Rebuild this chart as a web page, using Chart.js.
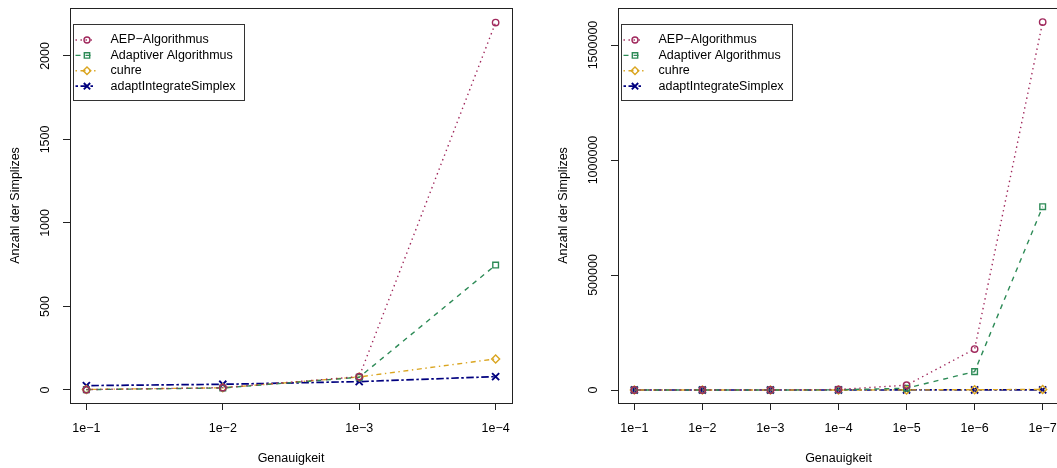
<!DOCTYPE html>
<html><head><meta charset="utf-8">
<script src="https://cdn.jsdelivr.net/npm/chart.js@4/dist/chart.umd.min.js"></script>
<style>
html,body{margin:0;padding:0;background:#fff;overflow:hidden;width:1057px;height:468px;position:relative}
canvas{position:absolute;top:0}
#c1{left:0}
#c2{left:529px}
</style></head>
<body>
<canvas id="c1" width="529" height="468"></canvas>
<canvas id="c2" width="545" height="468"></canvas>
<script>
// ---- data ----
const seriesNames = ['AEP\u2212Algorithmus', 'Adaptiver Algorithmus', 'cuhre', 'adaptIntegrateSimplex'];

const leftCategories = ['1e\u22121', '1e\u22122', '1e\u22123', '1e\u22124'];
const leftAEP      = [2, 14, 80, 2200];
const leftAdaptive = [2, 12, 76, 748];
const leftCuhre    = [3, 13, 78, 186];
const leftSimplex  = [26, 34, 50, 80];
const leftYTicks   = [0, 500, 1000, 1500, 2000];

const rightCategories = ['1e\u22121', '1e\u22122', '1e\u22123', '1e\u22124', '1e\u22125', '1e\u22126', '1e\u22127'];
const rightAEP      = [2, 14, 80, 2200, 21000, 178000, 1600000];
const rightAdaptive = [2, 12, 76, 748, 8000, 80000, 797000];
const rightCuhre    = [3, 13, 78, 186, 500, 1200, 2500];
const rightSimplex  = [26, 34, 50, 80, 150, 300, 600];
const rightYTicks   = [0, 500000, 1000000, 1500000];

const xTitle = 'Genauigkeit';
const yTitle = 'Anzahl der Simplizes';

// ---- styles ----
const FONT_FAMILY = '"Liberation Sans", Arial, Helvetica, sans-serif';
const FONT_SIZE = 12.5;
const FONT = FONT_SIZE + 'px ' + FONT_FAMILY;
const styles = [
  {color: '#a0285c', dash: [1.4, 3.6], point: 'circle', radius: 3.2, width: 1.4},
  {color: '#2e8b57', dash: [5, 5], point: 'rect', radius: 4, width: 1.4},
  {color: '#daa520', dash: [1.4, 3.6, 5, 3.6], point: 'rectRot', radius: 4, width: 1.4},
  {color: '#00007f', dash: [2.5, 2.5, 7.5, 2.5], point: 'crossRot', radius: 5, width: 1.7}
];

function drawMarker(ctx, kind, x, y, r, color) {
  ctx.save();
  ctx.strokeStyle = color; ctx.lineWidth = 1.4; ctx.setLineDash([]);
  ctx.beginPath();
  if (kind === 'circle') { ctx.arc(x, y, r, 0, Math.PI * 2); }
  else if (kind === 'rect') { const s = r * Math.SQRT1_2; ctx.rect(x - s, y - s, 2 * s, 2 * s); }
  else if (kind === 'rectRot') { ctx.moveTo(x, y - r); ctx.lineTo(x + r, y); ctx.lineTo(x, y + r); ctx.lineTo(x - r, y); ctx.closePath(); }
  else if (kind === 'crossRot') { const s = r * Math.SQRT1_2; ctx.moveTo(x - s, y - s); ctx.lineTo(x + s, y + s); ctx.moveTo(x + s, y - s); ctx.lineTo(x - s, y + s); ctx.lineWidth = 1.9; }
  ctx.stroke();
  ctx.restore();
}

const rStylePlugin = {
  id: 'rStyle',
  afterDraw(chart) {
    const ctx = chart.ctx, a = chart.chartArea;
    ctx.save();
    // plot box
    ctx.strokeStyle = '#222'; ctx.lineWidth = 1; ctx.setLineDash([]);
    ctx.strokeRect(a.left + 0.5, a.top + 0.5, a.right - a.left, a.bottom - a.top);
    // rotated y tick labels
    const ys = chart.scales.y;
    ctx.font = FONT; ctx.fillStyle = '#000'; ctx.textAlign = 'center'; ctx.textBaseline = 'middle';
    ys.ticks.forEach(t => {
      const py = ys.getPixelForValue(t.value);
      ctx.save(); ctx.translate(a.left - 24, py); ctx.rotate(-Math.PI / 2);
      ctx.fillText(String(t.value), 0, 0);
      ctx.restore();
    });
    // legend
    const bx = a.left + 2.5, by = a.top + 16, bw = 171, bh = 76;
    ctx.fillStyle = '#fff';
    ctx.fillRect(bx, by, bw, bh);
    ctx.strokeStyle = '#333'; ctx.lineWidth = 1;
    ctx.strokeRect(Math.round(bx) + 0.5, Math.round(by) + 0.5, bw, bh);
    chart.data.datasets.forEach((ds, i) => {
      const st = styles[i];
      const ry = by + 16 + i * 15.4;
      ctx.save();
      ctx.strokeStyle = st.color; ctx.lineWidth = st.width; ctx.setLineDash(st.dash);
      ctx.beginPath(); ctx.moveTo(bx + 3, ry); ctx.lineTo(bx + 23, ry); ctx.stroke();
      ctx.restore();
      drawMarker(ctx, st.point, bx + 14.5, ry, st.point === 'crossRot' ? 4.5 : (st.point === 'circle' ? 3 : 3.8), st.color);
      ctx.fillStyle = '#000'; ctx.font = FONT; ctx.textAlign = 'left'; ctx.textBaseline = 'middle';
      ctx.fillText(ds.label, bx + 38, ry);
    });
    ctx.restore();
  }
};

function makeChart(id, cats, series, yTicks, yMin, yMax, yWidth, padRight, yTitlePad) {
  const n = cats.length;
  const datasets = series.map((vals, i) => ({
    label: seriesNames[i],
    data: vals.map((v, k) => ({x: k + 1, y: v})),
    borderColor: styles[i].color,
    borderWidth: styles[i].width,
    borderDash: styles[i].dash,
    pointStyle: styles[i].point,
    pointRadius: styles[i].radius,
    pointBorderWidth: styles[i].point === 'crossRot' ? 1.9 : 1.4,
    pointBorderColor: styles[i].color,
    pointBackgroundColor: 'rgba(0,0,0,0)',
    fill: false,
    tension: 0
  }));
  return new Chart(document.getElementById(id), {
    type: 'line',
    data: {datasets},
    plugins: [rStylePlugin],
    options: {
      responsive: false,
      animation: false,
      devicePixelRatio: 1,
      layout: {padding: {left: 0, right: padRight, top: 8, bottom: 0}},
      plugins: {legend: {display: false}, tooltip: {enabled: false}},
      scales: {
        x: {
          type: 'linear',
          min: 1 - 0.04 * (n - 1),
          max: n + 0.04 * (n - 1),
          afterBuildTicks: s => { s.ticks = cats.map((c, k) => ({value: k + 1})); },
          afterFit: s => { s.height = 65; },
          grid: {drawOnChartArea: false, drawTicks: true, tickLength: 7, color: '#222', lineWidth: 1},
          border: {display: true, color: '#222'},
          ticks: {
            color: '#000', font: {family: FONT_FAMILY, size: FONT_SIZE}, padding: 11,
            maxRotation: 0, autoSkip: false,
            callback: (v, idx) => cats[idx]
          },
          title: {display: true, text: xTitle, color: '#000', font: {family: FONT_FAMILY, size: FONT_SIZE}, padding: {top: 0, bottom: 1.5}}
        },
        y: {
          type: 'linear',
          min: yMin, max: yMax,
          afterBuildTicks: s => { s.ticks = yTicks.map(v => ({value: v})); },
          afterFit: s => { s.width = yWidth; },
          grid: {drawOnChartArea: false, drawTicks: true, tickLength: 7, color: '#222', lineWidth: 1},
          border: {display: true, color: '#222'},
          ticks: {display: false},
          title: {display: true, text: yTitle, color: '#000', font: {family: FONT_FAMILY, size: FONT_SIZE}, padding: {top: yTitlePad, bottom: 0}}
        }
      }
    }
  });
}

makeChart('c1', leftCategories, [leftAEP, leftAdaptive, leftCuhre, leftSimplex], leftYTicks, -78, 2287, 70, 17, 8.5);
makeChart('c2', rightCategories, [rightAEP, rightAdaptive, rightCuhre, rightSimplex], rightYTicks, -56500, 1661000, 89, 15, 27.5);
</script>
</body></html>
